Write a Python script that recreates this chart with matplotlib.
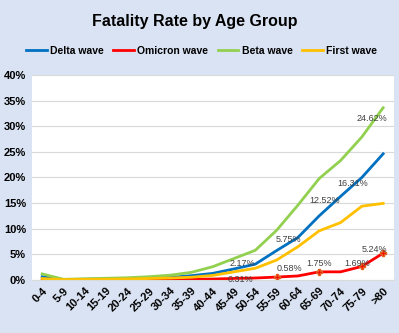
import matplotlib.pyplot as plt

plt.rcParams["font.family"] = ["Liberation Sans", "DejaVu Sans"]

ages = ["0-4", "5-9", "10-14", "15-19", "20-24", "25-29", "30-34", "35-39", "40-44",
        "45-49", "50-54", "55-59", "60-64", "65-69", "70-74", "75-79", ">80"]

delta = [0.65, 0.1, 0.15, 0.2, 0.25, 0.35, 0.5, 0.85, 1.3, 2.17, 3.1, 5.75, 8.3, 12.52, 16.31, 20.0, 24.62]
omicron = [0.05, 0.03, 0.03, 0.04, 0.05, 0.07, 0.1, 0.15, 0.2, 0.31, 0.4, 0.58, 0.8, 1.6, 1.6, 2.65, 5.24]
beta = [1.2, 0.15, 0.25, 0.35, 0.45, 0.65, 0.95, 1.5, 2.6, 4.2, 5.8, 9.7, 14.6, 19.8, 23.3, 27.9, 33.6]
first = [0.3, 0.08, 0.12, 0.15, 0.2, 0.3, 0.4, 0.55, 0.9, 1.6, 2.3, 3.9, 6.5, 9.6, 11.2, 14.4, 14.95]

# data labels: (index, text, x offset px, y offset px)
delta_labels = [(9, "2.17%", 8, 5), (11, "5.75%", 12, 11), (13, "12.52%", 5, 15),
                (14, "16.31%", 12, 13), (16, "24.62%", -11, 35)]
omicron_labels = [(9, "0.31%", 6, -1), (11, "0.58%", 13, 9), (13, "1.75%", 0, 8),
                  (15, "1.69%", -5, 3), (16, "5.24%", -9, 4)]

colors = {"Delta wave": "#0070C0", "Omicron wave": "#FF0000",
          "Beta wave": "#92D050", "First wave": "#FFC000"}

fig = plt.figure(figsize=(3.99, 3.33), dpi=100)
fig.patch.set_facecolor("#DAE3F3")
ax = fig.add_axes([0.079, 0.159, 0.908, 0.616])
ax.set_facecolor("white")

x = list(range(len(ages)))
ax.plot(x, [v / 100 for v in delta], color=colors["Delta wave"], lw=2, label="Delta wave")
ax.plot(x, [v / 100 for v in omicron], color=colors["Omicron wave"], lw=2, label="Omicron wave")
ax.plot(x, [v / 100 for v in beta], color=colors["Beta wave"], lw=2, label="Beta wave")
ax.plot(x, [v / 100 for v in first], color=colors["First wave"], lw=2, label="First wave")

mk = [i for i, _, _, _ in omicron_labels[1:]]
ax.plot(mk, [omicron[i] / 100 for i in mk], ls="none", marker="P", ms=4,
        color="#FF0000", mec="#E06020")

for i, txt, dx, dy in delta_labels:
    ax.annotate(txt, (i, delta[i] / 100), xytext=(dx, dy), textcoords="offset pixels",
                ha="center", va="center", fontsize=6.5, color="#404040")
for i, txt, dx, dy in omicron_labels:
    ax.annotate(txt, (i, omicron[i] / 100), xytext=(dx, dy), textcoords="offset pixels",
                ha="center", va="center", fontsize=6.5, color="#404040")

ax.set_xlim(-0.5, len(ages) - 0.5)
ax.set_ylim(0, 0.40)
ax.set_yticks([i / 100 for i in range(0, 41, 5)])
ax.set_yticklabels([f"{i}%" for i in range(0, 41, 5)], fontsize=8, fontweight="bold")
ax.set_xticks(x)
ax.set_xticklabels(ages, rotation=45, ha="right", rotation_mode="anchor",
                   fontsize=8, fontweight="bold")
ax.tick_params(length=0, pad=4)
ax.grid(axis="y", color="#D9D9D9", lw=0.8)
ax.set_axisbelow(True)
for s in ["top", "right", "left"]:
    ax.spines[s].set_visible(False)
ax.spines["bottom"].set_color("#D9D9D9")

fig.text(0.487, 0.935, "Fatality Rate by Age Group", ha="center", va="center",
         fontsize=11.5, fontweight="bold")
fig.legend(loc="center", bbox_to_anchor=(0.505, 0.848), ncol=4, frameon=False,
           prop={"size": 7.5, "weight": "bold"}, handlelength=2.0, handletextpad=0.3,
           columnspacing=0.9)

fig.savefig("out.png", dpi=100, facecolor=fig.get_facecolor())
